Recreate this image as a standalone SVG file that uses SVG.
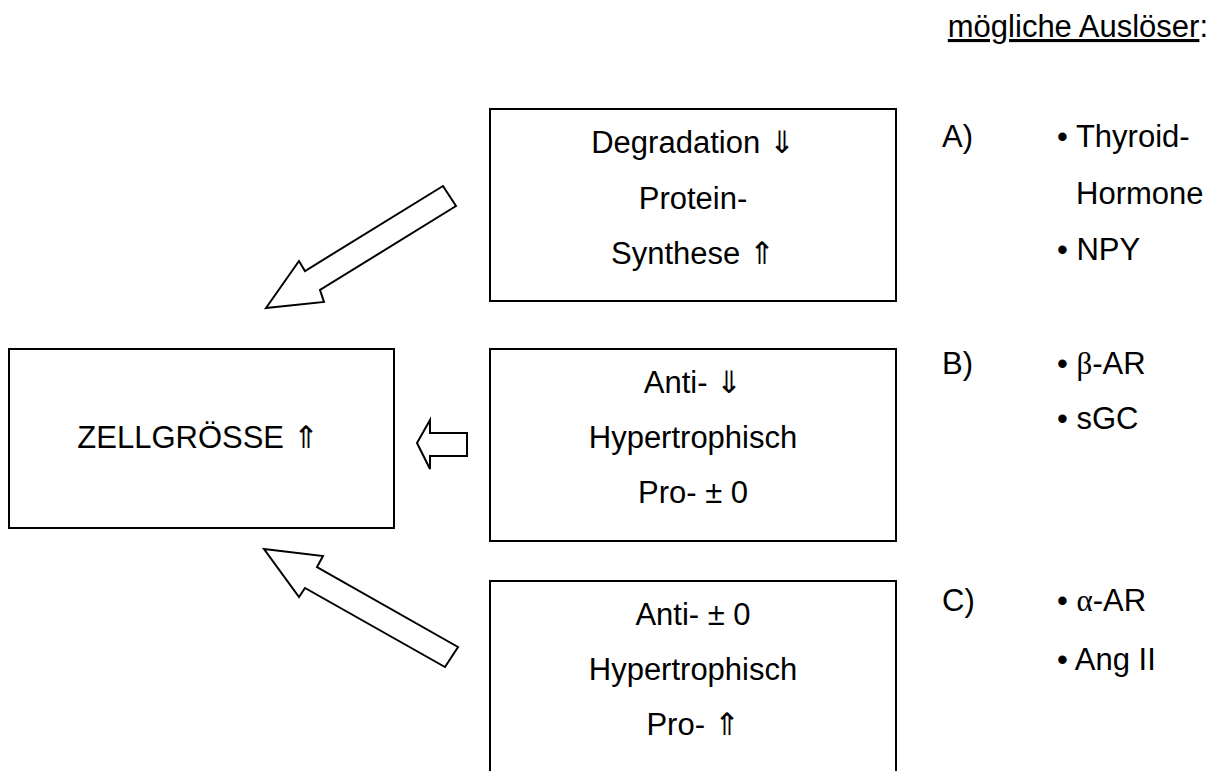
<svg xmlns="http://www.w3.org/2000/svg" width="1218" height="771" viewBox="0 0 1218 771">
<style>
.box{fill:#fff;stroke:#000;stroke-width:2}
.arr{fill:#fff;stroke:#000;stroke-width:2;stroke-linejoin:miter}
text{font-family:"Liberation Sans",Arial,sans-serif;font-size:31px;fill:#000}
.c{text-anchor:middle}
.sym{font-family:"DejaVu Sans ExtraLight","DejaVu Sans","Liberation Sans",sans-serif;font-weight:200}
.gr{font-family:"Liberation Serif","DejaVu Serif",serif}
</style>
<rect width="1218" height="771" fill="#fff"/>
<g id="connectors">
<polygon class="arr" points="266,308 299,261 305,271 443,186 456,206 320,290 324,302"/>
<polygon class="arr" points="417,443 430,420 430,433 467,433 467,456 430,456 430,469"/>
<polygon class="arr" points="264,549 323,556 317,567 458,647 445,667 305,588 299,597"/>
</g>
<g id="zellgroesse">
<rect class="box" x="9" y="349" width="385" height="179"/>
<text class="c" x="198" y="448">ZELLGRÖSSE <tspan class="sym">⇑</tspan></text>
</g>
<g id="box-a">
<rect class="box" x="490" y="109" width="406" height="192"/>
<text class="c" x="693" y="153">Degradation <tspan class="sym">⇓</tspan></text>
<text class="c" x="693" y="209">Protein-</text>
<text class="c" x="693" y="264">Synthese <tspan class="sym">⇑</tspan></text>
</g>
<g id="box-b">
<rect class="box" x="490" y="349" width="406" height="192"/>
<text class="c" x="693" y="393">Anti- <tspan class="sym">⇓</tspan></text>
<text class="c" x="693" y="448">Hypertrophisch</text>
<text class="c" x="693" y="503">Pro- ± 0</text>
</g>
<g id="box-c">
<rect class="box" x="490" y="581" width="406" height="220"/>
<text class="c" x="693" y="625">Anti- ± 0</text>
<text class="c" x="693" y="680">Hypertrophisch</text>
<text class="c" x="693" y="735">Pro- <tspan class="sym">⇑</tspan></text>
</g>
<g id="ausloeser">
<text x="1208" y="37" text-anchor="end"><tspan text-decoration="underline">mögliche Auslöser</tspan>:</text>
<text x="942" y="147">A)</text>
<text x="1057" y="147">• Thyroid-</text>
<text x="1076" y="204">Hormone</text>
<text x="1057" y="260">• NPY</text>
<text x="942" y="374">B)</text>
<text x="1057" y="374">• <tspan class="gr">β</tspan>-AR</text>
<text x="1057" y="429">• sGC</text>
<text x="942" y="611">C)</text>
<text x="1057" y="611">• <tspan class="gr">α</tspan>-AR</text>
<text x="1057" y="670">• Ang II</text>
</g>
</svg>
